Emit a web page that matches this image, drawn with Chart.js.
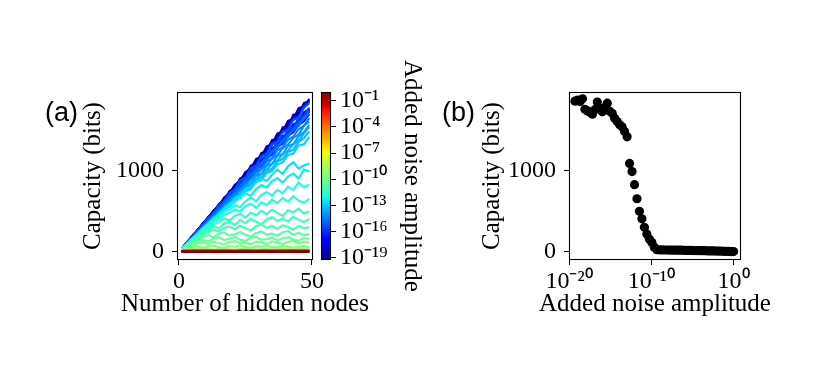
<!DOCTYPE html>
<html><head><meta charset="utf-8">
<script src="https://cdn.jsdelivr.net/npm/chart.js@4.4.1/dist/chart.umd.min.js"></script>
<style>
html,body{margin:0;padding:0;background:#fff;}
#wrap{position:relative;width:831px;height:375px;overflow:hidden;background:#fff;}
canvas{position:absolute;}
.pl{position:absolute;font-family:'Liberation Sans',Arial,sans-serif;font-size:27px;line-height:27px;color:#000;white-space:nowrap;}
</style></head><body>
<div id="wrap">
<canvas id="cA" style="left:0;top:0" width="490" height="375"></canvas>
<canvas id="cB" style="left:300px;top:0" width="140" height="375"></canvas>
<canvas id="cC" style="left:430px;top:0" width="450" height="375"></canvas>
<div class="pl" style="left:45px;top:99px">(a)</div>
<div class="pl" style="left:442px;top:99px">(b)</div>
</div>
<script>
// ---------------- DATA ----------------
// hidden-node counts (x of panel a)
const hiddenNodes = [1,3,5,7,9,11,13,15,17,19,21,23,25,27,29,31,33,35,37,39,41,43,45,47,49];
const hiddenNodesCoarse = [1,5,9,13,17,21,25,29,33,37,41,45,49];
// log10 of added noise amplitude, one per curve / scatter point (2^0 ... 2^-64)
const noiseExp = [0,-0.30,-0.60,-0.90,-1.20,-1.51,-1.81,-2.11,-2.41,-2.71,-3.01,-3.31,-3.61,-3.91,-4.21,-4.52,-4.82,-5.12,-5.42,-5.72,
 -6.02,-6.32,-6.62,-6.92,-7.22,-7.53,-7.83,-8.13,-8.43,-8.73,-9.03,-9.33,-9.63,-9.93,-10.24,-10.54,-10.84,-11.14,-11.44,-11.74,
 -12.04,-12.34,-12.64,-12.94,-13.25,-13.55,-13.85,-14.15,-14.45,-14.75,-15.05,-15.35,-15.65,-15.95,-16.26,-16.56,-16.86,-17.16,-17.46,-17.76,
 -18.06,-18.36,-18.66,-18.96,-19.27];
// capacity (bits) vs hidden nodes, one row per noise level (same order as noiseExp)
const capacityByNoise = [
 [3,2,4,2,3,1,3,2,3,2,4,2,3],
 [4,3,5,3,4,3,5,3,4,3,5,4,4],
 [4,5,6,4,5,4,6,4,5,5,6,4,5],
 [5,6,7,5,6,5,7,6,6,5,7,5,6],
 [6,7,8,6,7,7,8,6,7,6,8,7,7],
 [6,8,9,7,8,7,9,7,8,8,9,7,8],
 [7,9,10,8,9,8,10,9,9,8,10,8,9],
 [8,10,11,9,10,9,11,9,10,10,11,9,10],
 [8,11,12,10,11,10,12,10,11,10,12,11,11],
 [9,12,13,11,12,11,13,11,12,12,13,11,12],
 [9,12,13,12,12,11,13,12,12,11,13,12,12],
 [10,13,14,12,13,12,14,12,13,13,14,12,13],
 [10,14,15,13,14,13,15,13,14,13,15,14,14],
 [11,14,15,14,14,13,15,14,14,13,15,13,14],
 [11,15,16,14,15,14,16,14,15,15,16,14,15],
 [12,16,17,15,16,15,17,15,16,15,17,16,16],
 [12,16,17,16,16,15,17,16,16,15,17,15,16],
 [13,17,18,16,17,16,18,16,17,17,18,16,17],
 [13,18,19,17,18,17,19,17,18,17,19,18,18],
 [14,18,19,18,18,17,19,18,18,17,19,17,18],
 [14,19,20,18,19,18,20,18,19,19,20,18,19],
 [15,20,21,19,20,19,21,19,20,19,21,20,20],
 [15,20,21,20,20,19,21,20,20,19,21,19,20],
 [15,21,22,20,21,20,22,20,21,21,22,20,21],
 [16,21,22,21,21,20,22,21,21,20,22,20,21],
 [16,22,23,21,22,21,23,21,22,21,23,22,22],
 [16,22,24,21,23,21,23,22,22,21,24,21,22],
 [17,23,24,22,23,22,24,22,23,22,24,23,23],
 [17,23,25,22,24,22,24,23,23,22,25,22,23],
 [17,24,26,23,25,23,25,23,24,23,26,23,24],
 [18,25,27,24,26,23,27,24,26,24,27,24,25],
 [15,28,36,24,40,30,22,34,42,26,24,38,30,44,25,32,40,24,34,46,28,22,36,30,27],
 [20,44,58,70,52,66,78,56,48,72,62,80,55,50,70,64,82,58,52,74,66,50,62,70,55],
 [24,60,84,102,118,96,125,110,88,120,132,105,115,92,126,118,98,130,112,95,122,135,104,120,115],
 [26,70,102,130,150,128,162,178,145,160,182,150,135,170,185,148,158,176,140,165,182,150,140,170,158],
 [28,78,120,150,185,205,178,222,240,200,215,245,210,188,232,250,212,225,198,240,255,210,232,205,220],
 [29,84,132,175,214,240,270,252,292,310,278,320,290,262,315,335,295,318,280,328,305,272,318,290,302],
 [30,88,142,186,236,262,310,290,345,372,330,390,352,405,370,340,398,425,378,410,372,430,395,365,405],
 [31,92,150,200,255,290,340,365,410,385,440,465,420,480,450,505,462,520,478,440,512,485,530,470,497],
 [32,94,158,210,270,312,372,400,455,480,520,495,560,590,540,608,575,640,598,660,615,682,630,600,652],
 [32,96,160,218,282,330,392,430,492,520,575,548,620,668,620,700,735,690,762,720,798,760,850,790,825],
 [33,98,160,226,284,352,400,468,510,578,612,668,720,688,770,820,790,865,905,850,925,960,900,1010,985],
 [33,100,166,228,296,352,422,470,545,585,660,692,770,795,858,900,870,945,1010,955,1050,1100,1020,1060,1085],
 [32,96,160,218,284,336,402,446,520,555,632,662,745,770,858,880,968,990,1075,1098,1190,1205,1305,1320,1412],
 [31,90,158,214,285,332,405,448,528,566,645,684,760,798,875,910,990,1022,1108,1140,1225,1255,1350,1395,1478],
 [31,96,154,224,278,348,400,470,522,592,645,715,765,835,885,955,1002,1080,1120,1198,1240,1322,1365,1455,1535],
 [32,94,163,218,295,342,425,465,552,590,680,715,805,838,930,960,1052,1082,1175,1200,1298,1322,1420,1470,1560],
 [33,99,162,232,290,364,420,495,552,626,680,758,810,888,938,1015,1065,1142,1190,1270,1315,1398,1440,1545,1600],
 [34,98,172,228,308,360,442,492,578,625,712,758,845,885,978,1020,1110,1150,1245,1285,1375,1415,1505,1550,1640],
 [35,106,170,248,310,390,448,530,586,670,722,810,862,950,998,1090,1135,1228,1275,1365,1412,1505,1548,1645,1700],
 [35,102,180,240,325,378,468,518,608,655,748,795,888,935,1028,1068,1168,1212,1308,1350,1448,1490,1590,1628,1725],
 [37,114,182,266,330,420,472,572,618,722,765,872,910,1022,1058,1170,1205,1320,1352,1470,1498,1620,1648,1770,1825],
 [36,105,186,248,330,392,474,532,620,676,762,818,908,962,1055,1105,1198,1250,1342,1392,1488,1535,1632,1675,1770],
 [35,110,170,254,308,398,445,540,582,680,722,820,858,962,998,1102,1135,1245,1272,1385,1410,1525,1550,1668,1720],
 [36,104,186,244,334,386,480,526,628,668,775,810,918,952,1065,1092,1212,1236,1358,1378,1500,1520,1645,1662,1760],
 [37,118,182,272,328,425,476,580,625,732,772,882,922,1035,1070,1188,1218,1340,1365,1492,1512,1645,1662,1795,1838],
 [36,110,176,255,318,398,460,542,600,688,742,832,882,978,1025,1122,1168,1268,1312,1410,1455,1555,1598,1698,1745],
 [34,102,174,238,315,375,456,512,595,650,732,788,870,922,1008,1058,1148,1195,1285,1330,1422,1468,1560,1602,1690],
 [35,108,172,250,310,392,450,534,588,675,728,815,868,958,1005,1098,1142,1240,1280,1380,1420,1520,1558,1662,1716],
 [35,104,180,240,328,380,470,518,612,656,755,796,898,935,1042,1075,1185,1218,1325,1360,1468,1500,1612,1640,1730],
 [36,112,174,258,316,404,455,550,596,696,738,842,880,988,1020,1132,1162,1278,1302,1422,1445,1568,1588,1712,1750],
 [39,112,198,262,355,412,512,562,668,715,825,868,980,1020,1138,1172,1295,1325,1452,1478,1608,1632,1765,1785,1878],
 [38,116,186,270,332,430,478,588,628,745,778,902,928,1058,1078,1215,1228,1372,1378,1528,1528,1685,1680,1828,1845],
 [37,110,196,258,350,408,505,558,662,708,818,858,975,1010,1132,1160,1288,1312,1445,1462,1600,1615,1755,1768,1862],
 [38,118,186,272,338,428,488,585,640,738,790,892,942,1045,1092,1198,1245,1352,1398,1505,1550,1660,1700,1812,1850]
];
// tick values / labels
const xTicksA = [0, 50];
const yTicks = [0, 1000];
const cbTickExp = [-1, -4, -7, -10, -13, -16, -19];
const cbTickLabels = ['10⁻¹','10⁻⁴','10⁻⁷','10⁻¹⁰','10⁻¹³','10⁻¹⁶','10⁻¹⁹'];
const xTickExpC = [-20, -10, 0];
const xTickLabelsC = ['10⁻²⁰','10⁻¹⁰','10⁰'];

// ---------------- STYLE HELPERS ----------------
const JR=[[0,0],[0.35,0],[0.66,1],[0.89,1],[1,0.5]];
const JG=[[0,0],[0.125,0],[0.375,1],[0.64,1],[0.91,0],[1,0]];
const JB=[[0,0.5],[0.11,1],[0.34,1],[0.65,0],[1,0]];
function interp(p,t){for(let i=1;i<p.length;i++){if(t<=p[i][0]){const a=p[i-1],b=p[i];return a[1]+(b[1]-a[1])*(t-a[0])/(b[0]-a[0]);}}return p[p.length-1][1];}
function jet(t){t=Math.min(1,Math.max(0,t));return 'rgb('+Math.round(255*interp(JR,t))+','+Math.round(255*interp(JG,t))+','+Math.round(255*interp(JB,t))+')';}
const eMin = Math.min(...noiseExp), eMax = Math.max(...noiseExp);
const tOf = e => (e - eMin) / (eMax - eMin);

Chart.defaults.font.family = "'Liberation Serif','Times New Roman',serif";
Chart.defaults.font.size = 24;
Chart.defaults.color = '#000';

const frame = {id:'frame', afterDatasetsDraw(chart){const {ctx, chartArea:a}=chart; ctx.save(); ctx.strokeStyle='#000'; ctx.lineWidth=1.1; ctx.strokeRect(a.left+0.5,a.top+0.5,a.right-a.left-1,a.bottom-a.top-1); ctx.restore();}};
const grid = {display:true, drawOnChartArea:false, drawTicks:true, tickLength:5, color:'#000', lineWidth:1};
const tk = {color:'#000', font:{size:24}, maxRotation:0, minRotation:0, autoSkip:false};
const setTicks = vals => s => { s.ticks = vals.map(v => ({value:v})); };
const bottomTitle = txt => ({display:true, position:'bottom', text:txt, color:'#000', font:{size:25, weight:'normal'}, padding:{top:0, bottom:56}});
// invisible right-hand spacer axis so the full-width bottom title is centred on the plot area
const spacer = w => ({position:'right', display:true, grid:{display:false}, border:{display:false}, ticks:{display:false}, afterFit:s=>{s.width=w;}});
const base = {responsive:false, animation:false, events:[]};

// ---------------- PANEL (a) ----------------
const lineSets = capacityByNoise.map((row,k) => {
  const xs = row.length === hiddenNodes.length ? hiddenNodes : hiddenNodesCoarse;
  return {data: row.map((y,j)=>({x:xs[j], y})), borderColor: jet(tOf(noiseExp[k])), borderWidth:2.1, pointRadius:0, fill:false, tension:0};
});
new Chart(document.getElementById('cA'), {
  type:'line', data:{datasets: lineSets},
  options:{...base,
    plugins:{legend:{display:false}, tooltip:{enabled:false}, title:bottomTitle('Number of hidden nodes')},
    layout:{autoPadding:false, padding:{left:0, top:92, right:0, bottom:0}},
    scales:{
      x:{type:'linear', min:-0.75, max:50.4, afterBuildTicks:setTicks(xTicksA), afterFit:s=>{s.height=29;},
         ticks:{...tk, padding:2, callback:v=>String(v)}, grid, border:{display:false}},
      y:{type:'linear', min:-100, max:1962, afterBuildTicks:setTicks(yTicks), afterFit:s=>{s.width=177;},
         ticks:{...tk, padding:8, callback:v=>String(v)}, grid, border:{display:false},
         title:{display:true, text:'Capacity (bits)', font:{size:25}, padding:{top:78,bottom:0}}},
      ySpacer: spacer(177)
    }},
  plugins:[frame]
});

// ---------------- COLORBAR ----------------
const cbMin = Math.pow(10, eMin), cbMax = Math.pow(10, eMax);
const stops = [0,0.11,0.125,0.34,0.35,0.375,0.64,0.65,0.66,0.89,0.91,1];
new Chart(document.getElementById('cB'), {
  type:'bar',
  data:{labels:[''], datasets:[{data:[[cbMin, cbMax]], borderWidth:0, barPercentage:1, categoryPercentage:1,
    backgroundColor: c => { const a=c.chart.chartArea; if(!a) return '#888'; const g=c.chart.ctx.createLinearGradient(0,a.bottom,0,a.top); stops.forEach(s=>g.addColorStop(s, jet(s))); return g; }}]},
  options:{...base,
    plugins:{legend:{display:false}, tooltip:{enabled:false}},
    layout:{autoPadding:false, padding:{left:21, top:92, right:0, bottom:115}},
    scales:{
      x:{display:false},
      y:{type:'logarithmic', position:'right', min:cbMin, max:cbMax, afterBuildTicks:setTicks(cbTickExp.map(e=>Math.pow(10,e))), afterFit:s=>{s.width=109;},
         ticks:{...tk, padding:4, callback:(v,i)=>cbTickLabels[i]}, grid, border:{display:false},
         title:{display:true, text:'Added noise amplitude', font:{size:25}, padding:{top:13,bottom:0}}}
    }},
  plugins:[frame]
});

// ---------------- PANEL (b) ----------------
const scatterPts = noiseExp.map((e,k)=>({x:Math.pow(10,e), y:capacityByNoise[k][capacityByNoise[k].length-1]}));
new Chart(document.getElementById('cC'), {
  type:'scatter',
  data:{datasets:[{data:scatterPts, backgroundColor:'#000', borderWidth:0, pointRadius:4.6}]},
  options:{...base,
    plugins:{legend:{display:false}, tooltip:{enabled:false}, title:bottomTitle('Added noise amplitude')},
    layout:{autoPadding:false, padding:{left:0, top:92, right:0, bottom:0}},
    scales:{
      x:{type:'logarithmic', min:1e-20, max:Math.pow(10,0.9), afterBuildTicks:setTicks(xTickExpC.map(e=>Math.pow(10,e))), afterFit:s=>{s.height=29;},
         ticks:{...tk, padding:2, callback:(v,i)=>xTickLabelsC[i]}, grid, border:{display:false}},
      y:{type:'linear', min:-100, max:1962, afterBuildTicks:setTicks(yTicks), afterFit:s=>{s.width=139;},
         ticks:{...tk, padding:8, callback:v=>String(v)}, grid, border:{display:false},
         title:{display:true, text:'Capacity (bits)', font:{size:25}, padding:{top:47,bottom:0}}},
      ySpacer: spacer(139)
    }},
  plugins:[frame]
});
</script>
</body></html>
